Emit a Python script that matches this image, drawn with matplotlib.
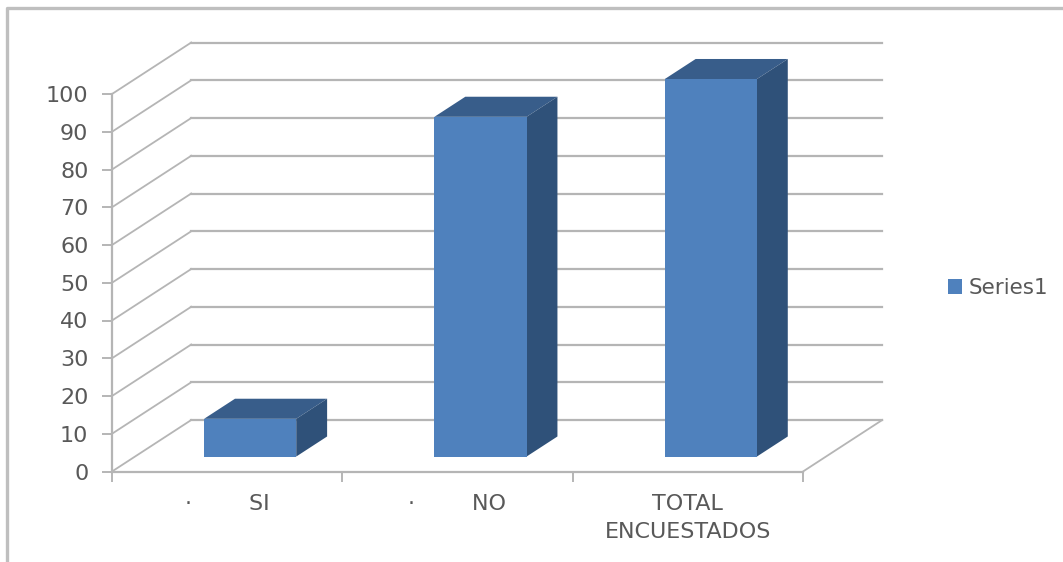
import numpy as np
import matplotlib
matplotlib.use("Agg")
import matplotlib.pyplot as plt
from matplotlib.lines import Line2D

plt.rcParams['font.family'] = ['DejaVu Sans']

categories = ["·        SI", "·        NO", "TOTAL\nENCUESTADOS"]
values = [10, 90, 100]
y_ticks = [0, 10, 20, 30, 40, 50, 60, 70, 80, 90, 100]
series_name = "Series1"

front_color = "#4f81bd"
top_color = "#385d8a"
side_color = "#2f5179"
grid_color = "#b5b5b5"
text_color = "#595959"

# fake 3d: how far the back wall sits from the front, in axis units
depth_x = 0.344
depth_y = 13.64
bar_width = 0.4
bar_depth = 0.39     # share of the floor depth taken by a bar
bar_start = 0.29     # where the front of a bar sits on the floor

fig = plt.figure(figsize=(10.63, 5.62), dpi=100)
ax = fig.add_axes([112 / 1063, 1 - 471.5 / 562, 691 / 1063, 377.5 / 562])
ax.set_xlim(0, 3)
ax.set_ylim(0, 100)
ax.patch.set_visible(False)

# back wall lines and the diagonals on the side wall
for t in y_ticks:
    ax.plot([depth_x, 3 + depth_x], [t + depth_y, t + depth_y], color=grid_color,
            lw=1.6, clip_on=False, zorder=1)
    ax.plot([0, depth_x], [t, t + depth_y], color=grid_color, lw=1.3,
            clip_on=False, zorder=1)

# right edge of the floor
ax.plot([3, 3 + depth_x], [0, depth_y], color=grid_color, lw=1.3, clip_on=False, zorder=1)

# bars: front face from the axes, then top and side faces shifted back
for i, v in enumerate(values):
    cx = i + 0.5 + bar_start * depth_x
    base = bar_start * depth_y
    x0 = cx - bar_width / 2
    x1 = cx + bar_width / 2
    dx = bar_depth * depth_x
    dy = bar_depth * depth_y
    ax.fill([x0, x1, x1 + dx, x0 + dx], [base + v, base + v, base + v + dy, base + v + dy],
            color=top_color, lw=0, clip_on=False, zorder=3)
    ax.fill([x1, x1 + dx, x1 + dx, x1], [base, base + dy, base + v + dy, base + v],
            color=side_color, lw=0, clip_on=False, zorder=3)
    ax.bar(cx, v, width=bar_width, bottom=base, color=front_color, zorder=4,
           clip_on=False, label=series_name if i == 0 else None)

for name in ["top", "right"]:
    ax.spines[name].set_visible(False)
for name in ["left", "bottom"]:
    ax.spines[name].set_color(grid_color)
    ax.spines[name].set_linewidth(1.6)

ax.set_yticks(y_ticks)
ax.tick_params(axis="y", length=7, width=1.4, color=grid_color, labelcolor=text_color,
               labelsize=16, pad=10)
ax.set_xticks([0, 1, 2, 3])
ax.set_xticklabels([])
ax.tick_params(axis="x", which="major", length=7, width=1.4, color=grid_color)
ax.set_xticks([0.5, 1.5, 2.5], minor=True)
ax.set_xticklabels(categories, minor=True, ha="center", linespacing=1.5)
ax.tick_params(axis="x", which="minor", length=0, labelcolor=text_color, labelsize=16, pad=16)

fig.legend(loc="center left", bbox_to_anchor=(947.5 / 1063, 1 - 288 / 562), frameon=False,
           fontsize=15.5, labelcolor=text_color, handlelength=0.68, handleheight=0.68,
           handletextpad=0.3, borderpad=0, borderaxespad=0)

# chart border, only the top and left edges are in frame
fig.add_artist(Line2D([6.5 / 1063, 6.5 / 1063, 1], [0, 1 - 8 / 562, 1 - 8 / 562],
                      transform=fig.transFigure, color="#bfbfbf", lw=2.4))

fig.savefig("out.png", dpi=100)
